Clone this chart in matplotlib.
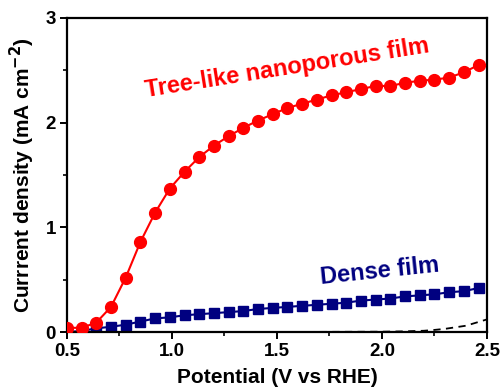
import matplotlib
matplotlib.use("Agg")
import matplotlib.pyplot as plt
from matplotlib.ticker import MultipleLocator

plt.rcParams['font.family'] = ['Liberation Sans', 'DejaVu Sans']

# Data
potential = [0.50, 0.57, 0.64, 0.71, 0.78, 0.85, 0.92, 0.99, 1.06, 1.13,
             1.20, 1.27, 1.34, 1.41, 1.48, 1.55, 1.62, 1.69, 1.76, 1.83,
             1.90, 1.97, 2.04, 2.11, 2.18, 2.25, 2.32, 2.39, 2.46]
tree_like = [0.04, 0.04, 0.09, 0.24, 0.52, 0.86, 1.14, 1.37, 1.53, 1.67,
             1.78, 1.87, 1.95, 2.02, 2.08, 2.14, 2.18, 2.22, 2.26, 2.29,
             2.32, 2.35, 2.35, 2.38, 2.40, 2.41, 2.43, 2.48, 2.55]
dense = [0.00, 0.01, 0.035, 0.05, 0.07, 0.10, 0.13, 0.14, 0.16, 0.17,
         0.18, 0.19, 0.20, 0.22, 0.23, 0.24, 0.25, 0.26, 0.27, 0.28,
         0.30, 0.31, 0.32, 0.34, 0.35, 0.36, 0.38, 0.39, 0.42]
dark_potential = [0.50, 1.00, 1.50, 2.00, 2.10, 2.20, 2.25, 2.30, 2.35, 2.40, 2.45, 2.50]
dark_current = [0.0, 0.0, 0.0, 0.003, 0.006, 0.012, 0.02, 0.03, 0.045, 0.06, 0.09, 0.12]

x_ticks = [0.5, 1.0, 1.5, 2.0, 2.5]
x_ticklabels = ['0.5', '1.0', '1.5', '2.0', '2.5']
y_ticks = [0, 1, 2, 3]
y_ticklabels = ['0', '1', '2', '3']

fig = plt.figure(figsize=(5.03, 3.89), dpi=100)
ax = fig.add_axes([0.133, 0.1465, 0.835, 0.8075])

red = '#FF0000'
navy = '#000080'

ax.plot(dark_potential, dark_current, color='black', linestyle=(0, (4, 3)), linewidth=1.3, zorder=1)
ax.plot(potential, dense, color=navy, marker='s', markersize=6.5, linewidth=1.5, zorder=2)
ax.plot(potential, tree_like, color=red, marker='o', markersize=8.5, linewidth=1.5, zorder=3)

ax.set_xlim(0.5, 2.5)
ax.set_ylim(0, 3)
ax.set_xticks(x_ticks)
ax.set_xticklabels(x_ticklabels)
ax.set_yticks(y_ticks)
ax.set_yticklabels(y_ticklabels)
ax.xaxis.set_minor_locator(MultipleLocator(0.25))
ax.yaxis.set_minor_locator(MultipleLocator(0.5))

for s in ax.spines.values():
    s.set_linewidth(1.6)
ax.tick_params(which='major', direction='out', length=5, width=1.4, labelsize=13.5, pad=3)
ax.tick_params(which='minor', direction='out', length=3, width=1.2)
for lab in ax.get_xticklabels() + ax.get_yticklabels():
    lab.set_fontweight('bold')

ax.set_xlabel('Potential (V vs RHE)', fontsize=15, fontweight='bold', labelpad=6)
ax.set_ylabel('Currrent density (mA cm$^{\\mathbf{-2}}$)', fontsize=15, fontweight='bold', labelpad=6)

ax.text(1.55, 2.52, 'Tree-like nanoporous film', color=red, fontsize=17, fontweight='bold',
        rotation=9, ha='center', va='center', rotation_mode='anchor')
ax.text(1.99, 0.58, 'Dense film', color=navy, fontsize=17, fontweight='bold',
        rotation=6, ha='center', va='center', rotation_mode='anchor')

fig.savefig('out.png', dpi=100)
